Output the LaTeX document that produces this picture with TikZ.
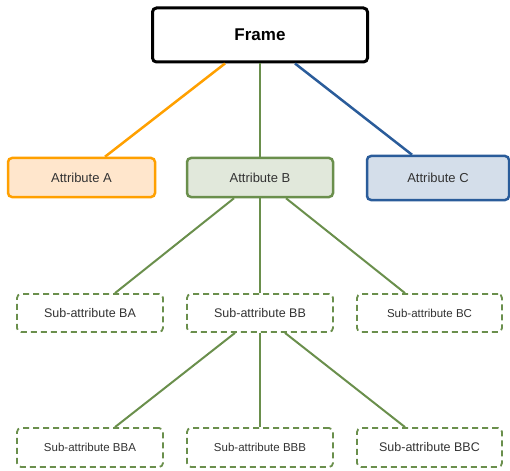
\documentclass[tikz,border=0pt]{standalone}
\usepackage{fontspec}
\setmainfont{Liberation Sans}
\definecolor{orangeS}{HTML}{FFA000}
\definecolor{orangeF}{HTML}{FFE6CC}
\definecolor{greenS}{HTML}{6A8F4C}
\definecolor{greenF}{HTML}{E1E8DB}
\definecolor{blueS}{HTML}{2A5C9A}
\definecolor{blueF}{HTML}{D4DEEA}
\definecolor{txt}{HTML}{333333}
\tikzset{
  box/.style={rectangle, rounded corners=4pt, inner sep=0pt, align=center},
  framebox/.style={box, draw=black, line width=3pt, fill=white, minimum width=215pt, minimum height=54pt, font=\fontsize{17}{20}\selectfont\bfseries},
  attrbox/.style={box, line width=2.5pt, minimum height=39pt, font=\fontsize{13}{15}\selectfont, text=txt},
  subbox/.style={box, draw=greenS, line width=1.8pt, dash pattern=on 6pt off 4pt, fill=white, minimum width=146pt, minimum height=38pt, text=txt},
  conn/.style={line width=2pt},
}
\begin{document}
\begin{tikzpicture}[x=1pt,y=-1pt]
\useasboundingbox (0,0) rectangle (510,470);
\node[framebox] (frame) at (260,35) {Frame};
\node[attrbox, draw=orangeS, fill=orangeF, minimum width=147pt] (A) at (81.5,177.5) {Attribute A};
\node[attrbox, draw=greenS, fill=greenF, minimum width=146pt] (B) at (260,177.5) {Attribute B};
\node[attrbox, draw=blueS, fill=blueF, minimum width=142pt, minimum height=44pt] (C) at (438,178) {Attribute C};
\node[subbox, font=\fontsize{12.5}{15}\selectfont] (BA) at (90,313) {Sub-attribute BA};
\node[subbox, font=\fontsize{12.5}{15}\selectfont] (BB) at (260,313) {Sub-attribute BB};
\node[subbox, font=\fontsize{11.5}{14}\selectfont, minimum width=145pt] (BC) at (429.5,313) {Sub-attribute BC};
\node[subbox, font=\fontsize{11.5}{14}\selectfont, minimum height=39pt] (BBA) at (90,447.5) {Sub-attribute BBA};
\node[subbox, font=\fontsize{11.5}{14}\selectfont, minimum height=39pt] (BBB) at (260,447.5) {Sub-attribute BBB};
\node[subbox, font=\fontsize{12.5}{15}\selectfont, minimum width=145pt, minimum height=39pt] (BBC) at (429.5,447.5) {Sub-attribute BBC};
\draw[conn, draw=orangeS, line width=2.5pt] ([xshift=-35pt]frame.south) -- ([xshift=23.5pt]A.north);
\draw[conn, draw=greenS, line width=2.5pt] (frame.south) -- (B.north);
\draw[conn, draw=blueS, line width=2.5pt] ([xshift=35pt]frame.south) -- ([xshift=-26pt]C.north);
\draw[conn, draw=greenS] ([xshift=-26pt]B.south) -- ([xshift=25pt]BA.north);
\draw[conn, draw=greenS] (B.south) -- (BB.north);
\draw[conn, draw=greenS] ([xshift=26pt]B.south) -- ([xshift=-24.5pt]BC.north);
\draw[conn, draw=greenS] ([xshift=-25pt]BB.south) -- ([xshift=25pt]BBA.north);
\draw[conn, draw=greenS] (BB.south) -- (BBB.north);
\draw[conn, draw=greenS] ([xshift=25pt]BB.south) -- ([xshift=-24.5pt]BBC.north);
\end{tikzpicture}
\end{document}
